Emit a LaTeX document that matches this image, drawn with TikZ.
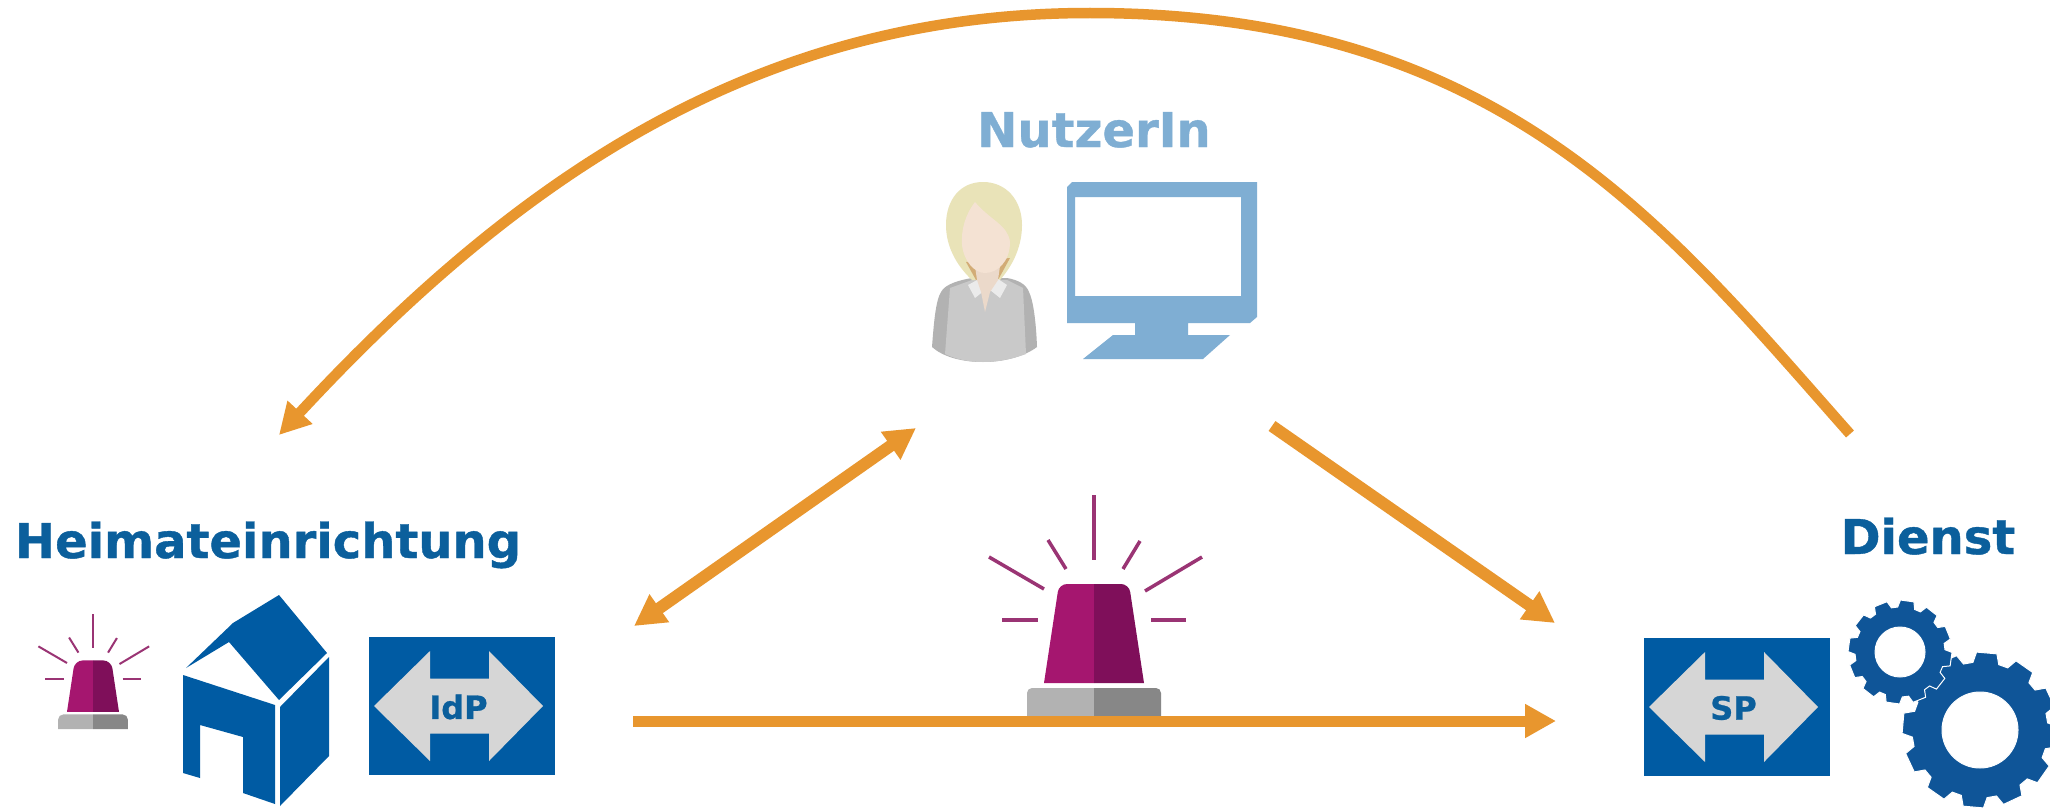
\documentclass[tikz,border=0pt]{standalone}
\usepackage{fontspec}
\setmainfont[BoldFeatures={FakeBold=0.8}]{DejaVu Sans}
\usetikzlibrary{arrows.meta}
\definecolor{flow}{HTML}{E8962E}
\definecolor{dfnblue}{HTML}{005BA3}
\definecolor{titleblue}{HTML}{0B5F9C}
\definecolor{gearblue}{HTML}{0F5598}
\definecolor{paleblue}{HTML}{7FAED3}
\definecolor{arrowgrey}{HTML}{D6D6D6}
\definecolor{sirenlight}{HTML}{A5166F}
\definecolor{sirendark}{HTML}{7F0F5A}
\definecolor{sirenray}{HTML}{9A3474}
\definecolor{hair}{HTML}{E9E3B8}
\definecolor{skin}{HTML}{F4E2D3}
\definecolor{neck}{HTML}{EBD9CA}
\tikzset{
  title node/.style={
    font=\bfseries\fontsize{48}{50}\selectfont,
    inner sep=0pt,
    anchor=base,
  },
  flow line/.style={
    draw=flow,
    line width=11pt,
    -{Triangle[length=31pt,width=32pt]},
  },
  ray line/.style={
    draw=sirenray,
    line width=3.5pt,
  },
  proto box/.pic={
    \fill[dfnblue] (-93,-69) rectangle (93,69);
    \fill[arrowgrey] (-88,0) -- (-32,-55) -- (-32,-27.5) -- (27,-27.5) -- (27,-55)
      -- (81,0) -- (27,55) -- (27,27.5) -- (-32,27.5) -- (-32,55) -- cycle;
    \node[text=titleblue, inner sep=0pt, font=\bfseries\fontsize{32}{34}\selectfont] (-label) at (-3.5,1) {#1};
  },
  siren/.pic={
    \foreach \xa/\ya/\xb/\yb in {0/-219/0/-154, -46/-174/-28/-145, 46/-173/29/-145,
      -105/-157/-50/-125, 108/-157/51/-123, -92/-94/-56/-94, 57/-94/92/-94}
      \draw[ray line] (\xa,\ya) -- (\xb,\yb);
    \fill[sirenlight] (0,-31) -- (-50,-31) [rounded corners=8pt] -- (-35,-130) [sharp corners] -- (0,-130) -- cycle;
    \fill[sirendark] (0,-31) -- (50,-31) [rounded corners=8pt] -- (35,-130) [sharp corners] -- (0,-130) -- cycle;
    \fill[black!30] (0,2) -- (-67,2) [rounded corners=5pt] -- (-67,-26) [sharp corners] -- (0,-26) -- cycle;
    \fill[black!47] (0,2) -- (67,2) [rounded corners=5pt] -- (67,-26) [sharp corners] -- (0,-26) -- cycle;
  },
}
% teeth offset, root radius, outer radius, hole radius
\newcommand{\gearshape}[4]{
  \filldraw[gearblue, draw=white, line width=1pt, even odd rule]
    ({#1-11}:#2) \foreach \a in {0,30,...,330} {
      -- ({#1+\a-11}:#2) -- ({#1+\a-7.5}:#3) -- ({#1+\a+7.5}:#3) -- ({#1+\a+11}:#2)
    } -- cycle (0,0) circle[radius=#4];
}

\begin{document}
\begin{tikzpicture}[x=1pt, y=-1pt]
        \fill[white] (0,0) rectangle (2050,808);
        \clip (0,0) rectangle (2050,808);

        \node[title node, text=titleblue] (heimat)  at (268,558) {Heimateinrichtung};
        \node[title node, text=titleblue] (dienst)  at (1928,554) {Dienst};
        \node[title node, text=paleblue]  (nutzer)  at (1094,147) {NutzerIn};

        % person
        \fill[black!30] (983,362) .. controls (960,362) and (942,356) .. (932,347)
          .. controls (934,320) and (936,300) .. (941,292)
          .. controls (945,284) and (960,280) .. (972,278) -- (1007,278)
          .. controls (1018,280) and (1026,284) .. (1029,292)
          .. controls (1033,300) and (1036,320) .. (1037,347)
          .. controls (1025,356) and (1005,362) .. (983,362) -- cycle;
        \fill[black!21] (983,362) .. controls (968,362) and (955,359) .. (945,354) -- (950,288)
          -- (972,280) -- (1007,280) -- (1023,288) -- (1026,354) .. controls (1012,359) and (998,362) .. (983,362) -- cycle;
        \fill[hair] (983,182) .. controls (960,182) and (946,200) .. (946,225)
          .. controls (946,245) and (955,264) .. (972,280) -- (1000,280)
          .. controls (1014,264) and (1022,245) .. (1022,225)
          .. controls (1022,200) and (1006,182) .. (983,182) -- cycle;
        \fill[brown!55!hair] (966,262) -- (976,280) -- (998,280) -- (1010,258) -- cycle;
        \fill[black!8] (968,285) -- (979,279) -- (985,290) -- (975,298) -- cycle;
        \fill[black!8] (1007,285) -- (998,279) -- (990,290) -- (1000,298) -- cycle;
        \fill[neck] (975,266) -- (1000,266) -- (998,280) -- (990,292) -- (985,312) -- (981,292) -- (977,280) -- cycle;
        \fill[skin] (975,202) .. controls (965,215) and (961,230) .. (962,245)
          .. controls (964,262) and (975,273) .. (985,273)
          .. controls (997,273) and (1010,262) .. (1010,242)
          .. controls (1008,225) and (990,220) .. (975,202) -- cycle;

        % screen
        \fill[paleblue, even odd rule] (1067,187) -- (1072,182) -- (1257,182) -- (1257,317) -- (1250,323)
          -- (1188,323) -- (1188,335) -- (1230,335) -- (1203,359) -- (1083,359) -- (1113,335)
          -- (1135,335) -- (1135,323) -- (1067,323) -- cycle
          (1075,197) rectangle (1241,296);

        % house
        \fill[dfnblue] (279,595) -- (233,623) -- (186,668) -- (229,642) -- (279,700) -- (327,653) -- cycle;
        \fill[dfnblue] (183,675) -- (275,705) -- (275,804) -- (243,793) -- (243,737) -- (200,725)
          -- (200,778) -- (183,773) -- cycle;
        \fill[dfnblue] (280,707) -- (329,657) -- (329,756) -- (280,806) -- cycle;

        \pic (idp) at (462,706) {proto box=IdP};
        \pic (sp)  at (1737,707) {proto box=SP};
        \pic (small alarm) at (93,728) [scale=.52, ray line/.append style={line width=2pt}] {siren};
        \pic (alarm) at (1094,714) {siren};

        \begin{scope}[shift={(1980,730)}]
          \gearshape{-85}{68}{78}{38}
        \end{scope}
        \begin{scope}[shift={(1900,652)}]
          \gearshape{-82}{45}{52}{25}
        \end{scope}

        \coordinate (arc start)    at (1850,434);
        \coordinate (arc top)      at (1090,13);
        \coordinate (arc end)      at (279,435);
        \coordinate (home port)    at (634,626);
        \coordinate (user port)    at (916,428);
        \coordinate (user out)     at (1272,426);
        \coordinate (service in)   at (1555,623);
        \coordinate (home out)     at (633,721);
        \coordinate (service port) at (1556,721);

        \draw[flow line, line width=10.5pt] (arc start) .. controls (1665,225) and (1500,13) .. (arc top)
          .. controls (760,13) and (520,175) .. (arc end);
        \draw[flow line, line width=12pt, {Triangle[length=31pt,width=32pt]}-{Triangle[length=31pt,width=32pt]}] (home port) -- (user port);
        \draw[flow line, line width=12pt] (user out) -- (service in);
        \draw[flow line] (home out) -- (service port);
\end{tikzpicture}
\end{document}
